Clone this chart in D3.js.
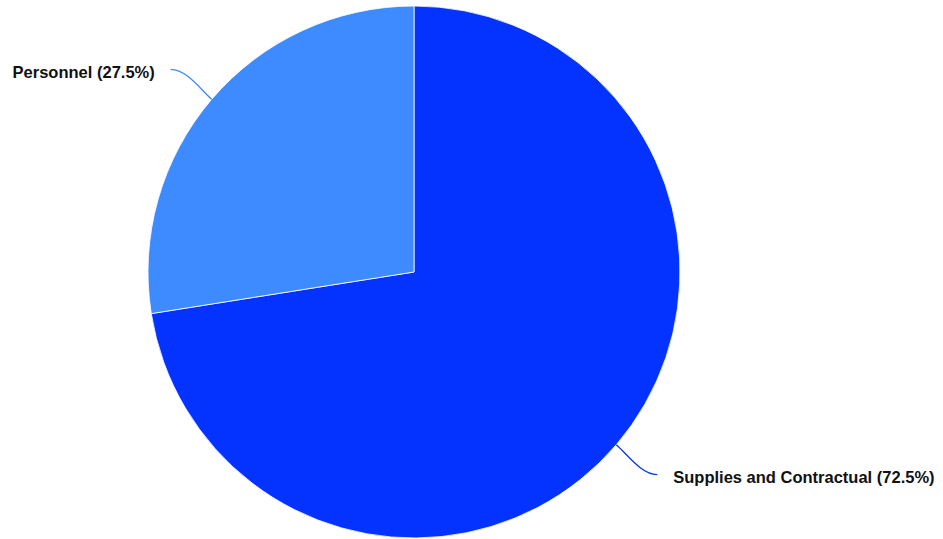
<!DOCTYPE html>
<html><head><meta charset="utf-8">
<script src="https://cdn.jsdelivr.net/npm/d3@7"></script>
<style>html,body{margin:0;padding:0;background:#fff;}svg{display:block;}</style>
</head><body>
<svg id="chart" width="943" height="539"></svg>
<script>
const categories = ["Supplies and Contractual", "Personnel"];
const values = [72.5, 27.5];
const colors = ["#0433ff", "#3d8bff"];

const svg = d3.select("#chart");
const cx = 414, cy = 272, r = 266;
const g = svg.append("g").attr("transform", `translate(${cx},${cy})`);

const data = categories.map((c, i) => ({name: c, value: values[i], color: colors[i]}));
const pie = d3.pie().sort(null).value(d => d.value);
const arcs = pie(data);
const arc = d3.arc().innerRadius(0).outerRadius(r);

g.selectAll("path.slice").data(arcs).enter().append("path")
  .attr("class", "slice")
  .attr("d", arc)
  .attr("fill", d => d.data.color)
  .attr("stroke", "#fff").attr("stroke-width", 0.8);

const total = d3.sum(values);
arcs.forEach(d => {
  const a = (d.startAngle + d.endAngle) / 2;
  const ux = Math.sin(a), uy = -Math.cos(a);
  const p0 = [ux * r, uy * r];
  const side = ux >= 0 ? 1 : -1;
  const p1 = [p0[0] + side * 41, p0[1] + uy * 46];
  const c1 = [p0[0] + ux * 14, p0[1] + uy * 14];
  const c2 = [p1[0] - side * 16, p1[1]];
  g.append("path")
    .attr("d", `M${p0[0]},${p0[1]} C${c1[0]},${c1[1]} ${c2[0]},${c2[1]} ${p1[0]},${p1[1]}`)
    .attr("fill", "none").attr("stroke", d.data.color).attr("stroke-width", 1.3);
  g.append("text")
    .attr("x", p1[0] + side * 16)
    .attr("y", p1[1] + 3)
    .attr("dy", "0.35em")
    .attr("text-anchor", side > 0 ? "start" : "end")
    .attr("font-family", "'Liberation Sans', Arial, Helvetica, sans-serif")
    .attr("font-weight", "bold")
    .attr("font-size", 16.5)
    .attr("fill", "#111")
    .text(`${d.data.name} (${(d.data.value / total * 100).toFixed(1)}%)`);
});
</script>
</body></html>
